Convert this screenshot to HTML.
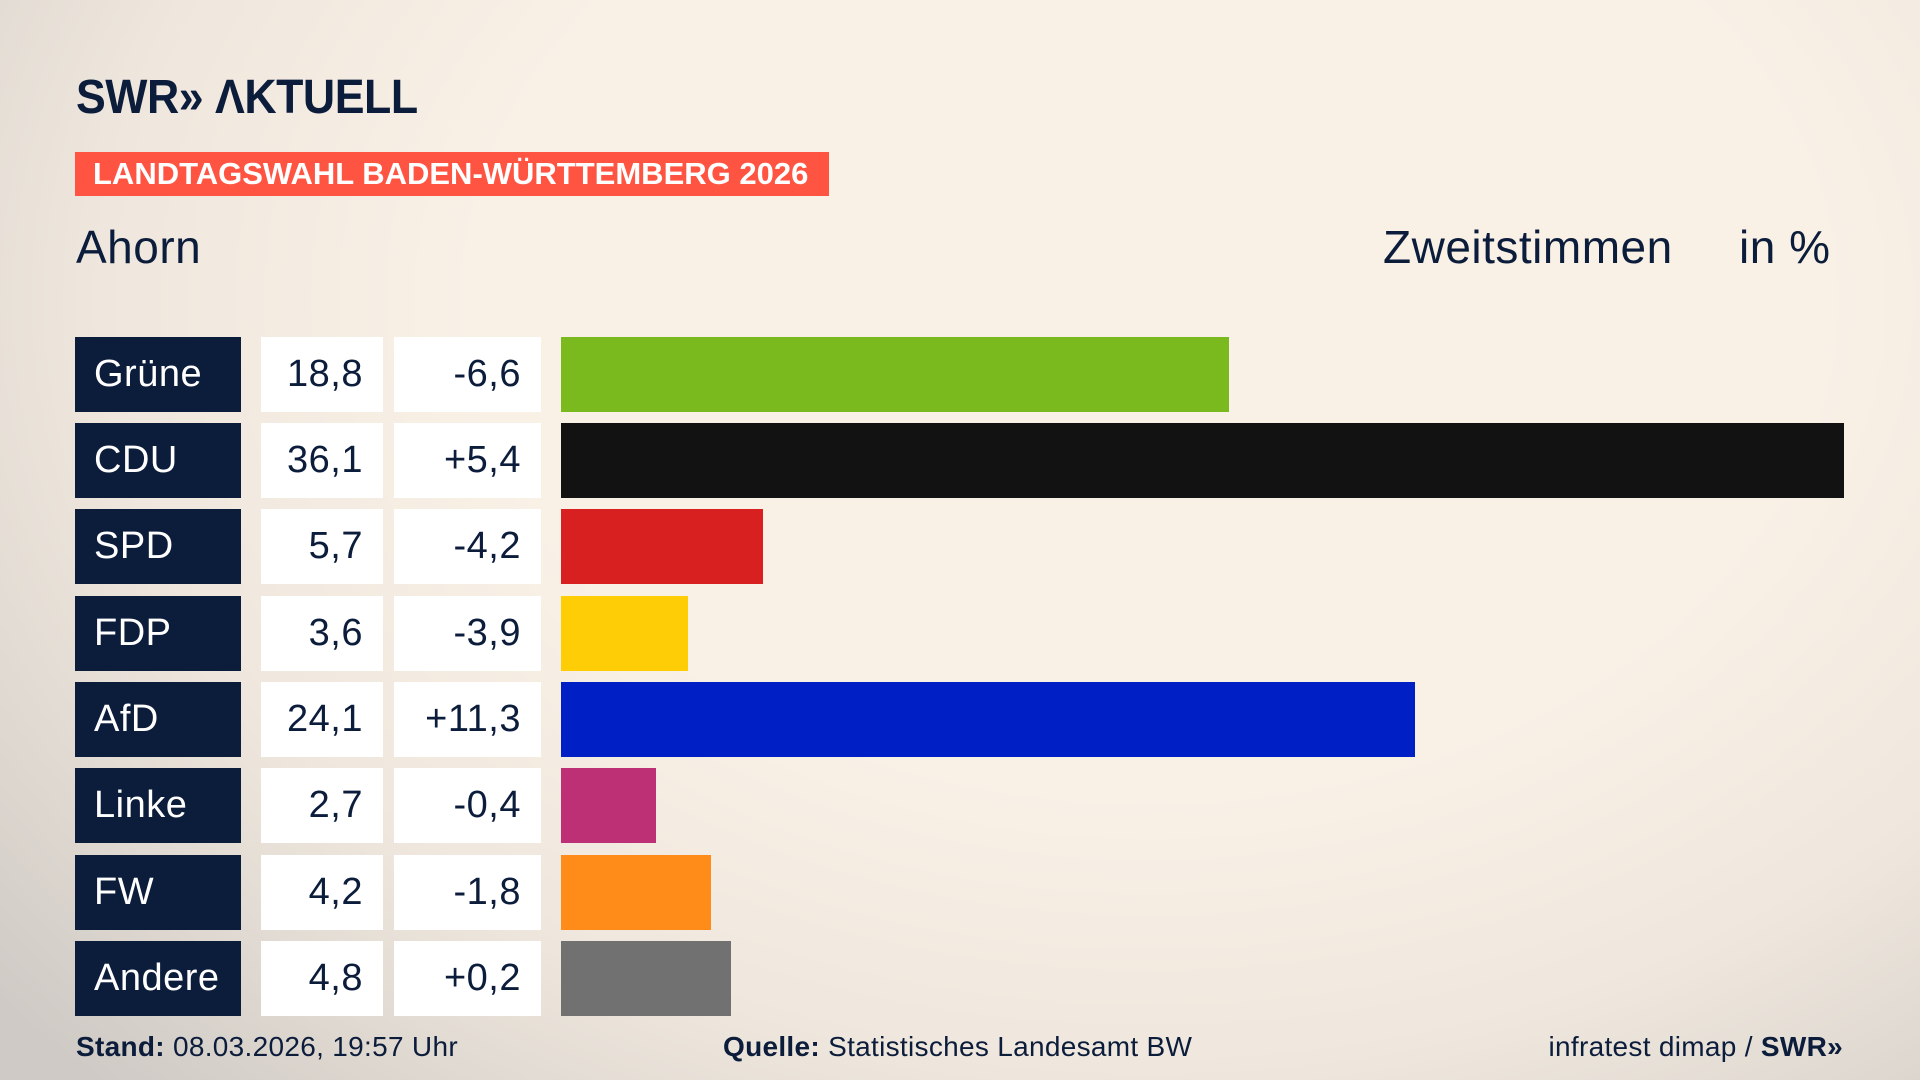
<!DOCTYPE html>
<html><head><meta charset="utf-8">
<style>
*{margin:0;padding:0;box-sizing:border-box}
body{width:1920px;height:1080px;overflow:hidden;position:relative;font-family:"Liberation Sans",sans-serif;color:#0c1c3b;
background:radial-gradient(ellipse 1500px 1100px at 1150px 300px,#f9f1e6 45%,#efe7dd 70%,#cfcac5 100%);}
.a{position:absolute;white-space:nowrap}
.logo{left:76px;top:70px;font-size:48px;font-weight:bold;letter-spacing:-0.5px;transform:scaleX(0.93);transform-origin:left}
.ban{left:75px;top:152px;width:754px;height:44px;background:#ff5442;color:#fff;font-weight:bold;font-size:31px;line-height:44px;padding-left:18px;letter-spacing:0px}
.h{top:220px;font-size:46px;letter-spacing:0.5px}
.p{left:75px;width:166px;height:75px;background:#0c1c3b;color:#fff;font-size:38px;line-height:75px;padding-left:19px;letter-spacing:0.5px}
.v{left:261px;width:122px;height:75px;background:#fff;font-size:38px;line-height:75px;text-align:right;padding-right:20px;letter-spacing:0.5px}
.d{left:394px;width:147px;height:75px;background:#fff;font-size:38px;line-height:75px;text-align:right;padding-right:20px;letter-spacing:0.5px}
.b{left:561px;height:75px}
.f{top:1031px;font-size:28px;letter-spacing:0.3px}
</style></head><body>
<div class="a logo">SWR&#187; &#923;KTUELL</div>
<div class="a ban">LANDTAGSWAHL BADEN-WÜRTTEMBERG 2026</div>
<div class="a h" style="left:76px">Ahorn</div>
<div class="a h" style="left:1383px">Zweitstimmen</div>
<div class="a h" style="left:1739px">in %</div>

<div class="a p" style="top:337px">Grüne</div><div class="a v" style="top:337px">18,8</div><div class="a d" style="top:337px">-6,6</div><div class="a b" style="top:337px;width:668px;background:#7aba1e"></div>
<div class="a p" style="top:423px">CDU</div><div class="a v" style="top:423px">36,1</div><div class="a d" style="top:423px">+5,4</div><div class="a b" style="top:423px;width:1283px;background:#121212"></div>
<div class="a p" style="top:509px">SPD</div><div class="a v" style="top:509px">5,7</div><div class="a d" style="top:509px">-4,2</div><div class="a b" style="top:509px;width:202px;background:#d7201f"></div>
<div class="a p" style="top:596px">FDP</div><div class="a v" style="top:596px">3,6</div><div class="a d" style="top:596px">-3,9</div><div class="a b" style="top:596px;width:127px;background:#ffcd05"></div>
<div class="a p" style="top:682px">AfD</div><div class="a v" style="top:682px">24,1</div><div class="a d" style="top:682px">+11,3</div><div class="a b" style="top:682px;width:854px;background:#0020c6"></div>
<div class="a p" style="top:768px">Linke</div><div class="a v" style="top:768px">2,7</div><div class="a d" style="top:768px">-0,4</div><div class="a b" style="top:768px;width:95px;background:#bd3075"></div>
<div class="a p" style="top:855px">FW</div><div class="a v" style="top:855px">4,2</div><div class="a d" style="top:855px">-1,8</div><div class="a b" style="top:855px;width:150px;background:#ff8c19"></div>
<div class="a p" style="top:941px">Andere</div><div class="a v" style="top:941px">4,8</div><div class="a d" style="top:941px">+0,2</div><div class="a b" style="top:941px;width:170px;background:#717171"></div>

<div class="a f" style="left:76px"><b>Stand:</b> 08.03.2026, 19:57 Uhr</div>
<div class="a f" style="left:723px"><b>Quelle:</b> Statistisches Landesamt BW</div>
<div class="a f" style="right:77px">infratest dimap / <b>SWR&#187;</b></div>
</body></html>
